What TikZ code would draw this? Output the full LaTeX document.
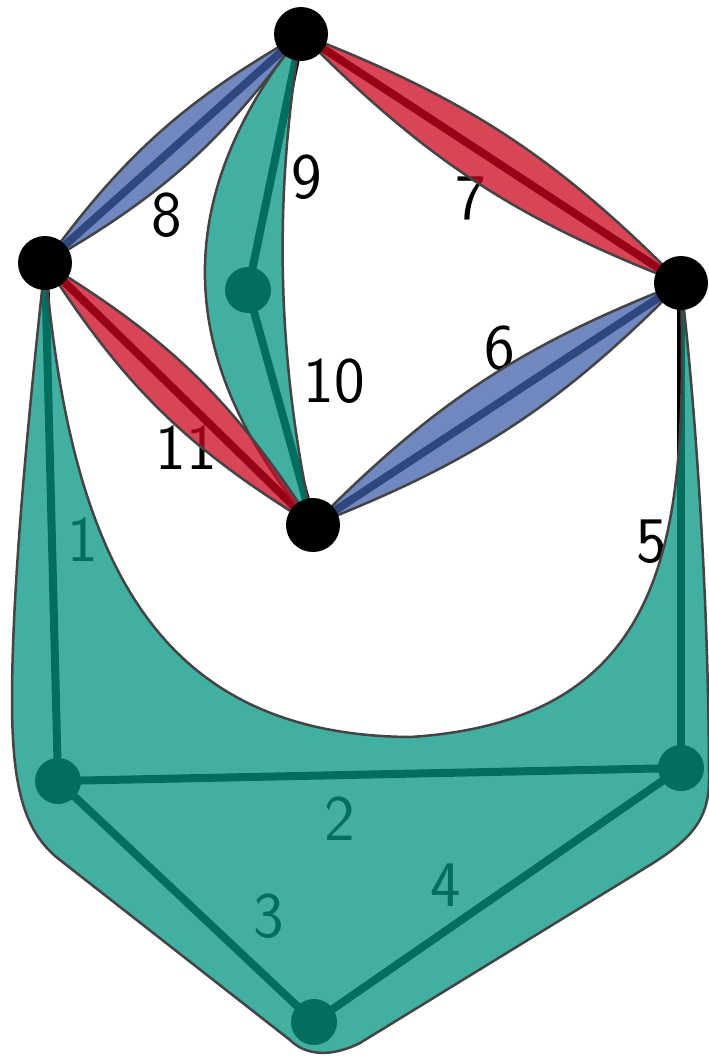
\documentclass[tikz,border=0pt]{standalone}
\usetikzlibrary{calc}
\definecolor{tealc}{RGB}{1,149,128}
\definecolor{bluec}{RGB}{64,96,170}
\definecolor{redc}{RGB}{204,5,31}
\definecolor{outl}{RGB}{68,68,68}
\begin{document}
\begin{tikzpicture}[x=1pt,y=-1pt,
  lbl/.style={inner sep=0pt,font=\sffamily\fontsize{65pt}{72pt}\selectfont},
  bignode/.style={circle,fill=black,inner sep=0pt,minimum size=54pt},
  smallnode/.style={circle,fill=black,inner sep=0pt,minimum size=46pt},
  edgeline/.style={line width=8pt,black},
  hyper/.style={draw=outl,line width=2.5pt,fill opacity=0.75,line join=round},
]
\useasboundingbox (0,0) rectangle (709,1057);
% coordinates of vertices
\coordinate (T) at (301,34);
\coordinate (L) at (45,263);
\coordinate (R) at (681,283);
\coordinate (C) at (313,525);
\coordinate (M) at (248,290);
\coordinate (BL) at (58,781);
\coordinate (BR) at (681,768);
\coordinate (B) at (314,1022);
% labels (below the translucent fills)
\node[lbl] (l8) at (167,215) {8};
\node[lbl] (l9) at (307,177) {9};
\node[lbl] (l7) at (471,198) {7};
\node[lbl] (l10) at (334,381) {10};
\node[lbl] (l6) at (500,348) {6};
\node[lbl] (l11) at (186,448) {11};
\node[lbl] (l1) at (83,540) {1};
\node[lbl] (l5) at (652,542) {5};
\node[lbl] (l2) at (340,819) {2};
\node[lbl] (l3) at (269,916) {3};
\node[lbl] (l4) at (446,885) {4};
% edges
\draw[edgeline] (L) -- (T);
\draw[edgeline] (T) -- (R);
\draw[edgeline] (C) -- (R);
\draw[edgeline] (L) -- (C);
\draw[edgeline] (T) -- (M) -- (C);
\draw[edgeline] (L) -- (BL);
\draw[edgeline] (BL) -- (BR);
\draw[edgeline] (BL) -- (B);
\draw[edgeline] (B) -- (BR);
\draw[edgeline] (BR) -- (R);
% small vertices
\node[smallnode] (m) at (M) {};
\node[smallnode] (bl) at (BL) {};
\node[smallnode] (br) at (BR) {};
\node[smallnode] (b) at (B) {};
% big hyperedge 1-5
\path[hyper,fill=tealc] (L) .. controls (30,400) and (12,580) .. (12,700)
  .. controls (12,790) and (25,833) .. (60,860) -- (290,1040)
  .. controls (305,1055) and (330,1058) .. (360,1043) -- (650,865)
  .. controls (690,840) and (709,820) .. (709,780)
  .. controls (709,600) and (695,400) .. (R)
  .. controls (686,520) and (680,720) .. (410,737)
  .. controls (150,735) and (70,550) .. (L) -- cycle;
% hyperedge 9,10
\path[hyper,fill=tealc] (T) .. controls (169,198) and (173,361) .. (C)
  .. controls (277,361) and (273,198) .. (T) -- cycle;
% lenses
\path[hyper,fill=bluec] (L) to[bend left=12] (T) to[bend left=12] (L);
\path[hyper,fill=redc] (T) to[bend left=12] (R) to[bend left=12] (T);
\path[hyper,fill=bluec] (C) to[bend left=12] (R) to[bend left=12] (C);
\path[hyper,fill=redc] (L) to[bend left=13] (C) to[bend left=13] (L);
% big vertices
\node[bignode] (t) at (T) {};
\node[bignode] (l) at (L) {};
\node[bignode] (r) at (R) {};
\node[bignode] (c) at (C) {};
\end{tikzpicture}
\end{document}
